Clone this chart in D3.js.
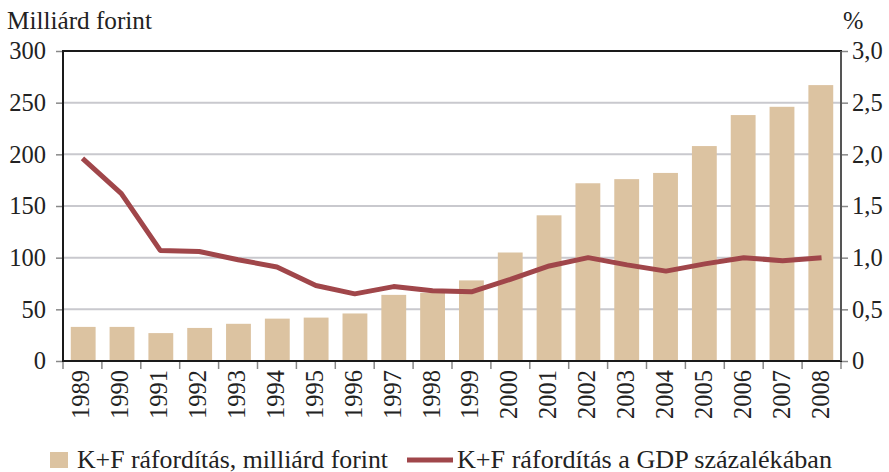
<!DOCTYPE html>
<html><head><meta charset="utf-8">
<script src="https://cdn.jsdelivr.net/npm/d3@7"></script>
<style>body{margin:0;background:#fff}svg{display:block}text{font-family:"Liberation Serif","DejaVu Serif",serif;fill:#222}</style>
</head><body><svg id="c" width="889" height="472"></svg>
<script>
const years = ["1989","1990","1991","1992","1993","1994","1995","1996","1997","1998","1999","2000","2001","2002","2003","2004","2005","2006","2007","2008"];
const spending = [33,33,27,32,36,41,42,46,64,66,78,105,141,172,176,182,208,238,246,267];
const gdpShare = [1.96,1.62,1.07,1.06,0.98,0.91,0.73,0.65,0.72,0.68,0.67,0.79,0.92,1.00,0.93,0.87,0.94,1.00,0.97,1.00];
const leftTicks = [0,50,100,150,200,250,300];
const rightTicks = [0,0.5,1,1.5,2,2.5,3];
const rightTickLabels = ["0","0,5","1,0","1,5","2,0","2,5","3,0"];

const svg = d3.select("#c");
const L=63, R=841, T=51, B=361;
const FS = "24.5px";
const x = d3.scaleBand().domain(years).range([L,R]).paddingInner(0.36).paddingOuter(0.2);
const band = d3.scaleBand().domain(years).range([L,R]);
const y = d3.scaleLinear().domain([0,300]).range([B,T]);
const y2 = d3.scaleLinear().domain([0,3]).range([B,T]);

// grid
svg.append("g").selectAll("line").data(leftTicks.filter(d=>d>0&&d<300)).join("line")
  .attr("x1",L).attr("x2",R).attr("y1",d=>y(d)).attr("y2",d=>y(d))
  .attr("stroke","#c9c9ce").attr("stroke-width",2);

// bars
svg.append("g").selectAll("rect").data(years).join("rect")
  .attr("x",d=>x(d)).attr("width",x.bandwidth())
  .attr("y",(d,i)=>y(spending[i])).attr("height",(d,i)=>B-y(spending[i]))
  .attr("fill","#dcc3a1");

// line
svg.append("path").datum(gdpShare)
  .attr("d", d3.line().x((d,i)=>band(years[i])+band.bandwidth()/2).y(d=>y2(d)))
  .attr("fill","none").attr("stroke","#a0464a").attr("stroke-width",5).attr("stroke-linejoin","round");

// axes
const ax = svg.append("g").attr("transform",`translate(${L},0)`)
  .call(d3.axisLeft(y).tickValues(leftTicks).tickSize(7).tickPadding(10));
const ax2 = svg.append("g").attr("transform",`translate(${R},0)`)
  .call(d3.axisRight(y2).tickValues(rightTicks).tickSize(7).tickPadding(4).tickFormat((d,i)=>rightTickLabels[i]));
[ax,ax2].forEach(a=>{
  a.select(".domain").remove();
  a.selectAll(".tick line").attr("stroke","#888").attr("stroke-width",1.5);
  a.selectAll("text").style("font-size",FS).attr("fill","#222");
});

// x axis ticks at boundaries
const bounds = years.map(d=>band(d)).concat([R]);
svg.append("g").selectAll("line").data(bounds).join("line")
  .attr("x1",d=>d).attr("x2",d=>d).attr("y1",B).attr("y2",B+8)
  .attr("stroke","#888").attr("stroke-width",1.5);
svg.append("g").selectAll("text").data(years).join("text")
  .attr("transform",d=>`translate(${band(d)+band.bandwidth()/2+7},${B+9}) rotate(-90)`)
  .attr("text-anchor","end").style("font-size",FS).text(d=>d);

// frame
svg.append("rect").attr("x",L).attr("y",T).attr("width",R-L).attr("height",B-T)
  .attr("fill","none").attr("stroke","#1a1a1a").attr("stroke-width",2);
svg.append("line").attr("x1",R).attr("x2",R).attr("y1",T).attr("y2",B).attr("stroke","#555").attr("stroke-width",2);

// titles
svg.append("text").attr("x",7).attr("y",29).style("font-size",FS).attr("textLength",145).attr("lengthAdjust","spacingAndGlyphs").text("Milliárd forint");
svg.append("text").attr("x",843).attr("y",29).style("font-size",FS).text("%");

// legend
svg.append("rect").attr("x",50).attr("y",452).attr("width",18).attr("height",16).attr("fill","#dcc3a1");
svg.append("text").attr("x",77).attr("y",468).style("font-size",FS).attr("textLength",311).attr("lengthAdjust","spacingAndGlyphs").text("K+F ráfordítás, milliárd forint");
svg.append("line").attr("x1",407).attr("x2",453).attr("y1",460).attr("y2",460).attr("stroke","#a0464a").attr("stroke-width",5);
svg.append("text").attr("x",457).attr("y",468).style("font-size",FS).attr("textLength",375).attr("lengthAdjust","spacingAndGlyphs").text("K+F ráfordítás a GDP százalékában");
</script></body></html>
